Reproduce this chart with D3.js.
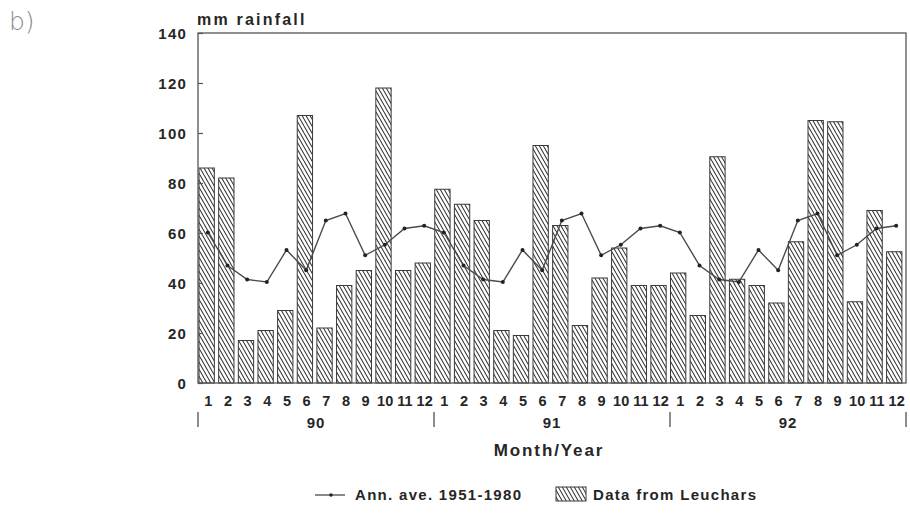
<!DOCTYPE html>
<html>
<head>
<meta charset="utf-8">
<script src="https://cdn.jsdelivr.net/npm/d3@7/dist/d3.min.js"></script>
<style>
  html, body { margin: 0; padding: 0; background: #ffffff; }
  svg { display: block; }
  text { font-family: "Liberation Sans", Arial, sans-serif; font-weight: bold; fill: #262626; }
</style>
</head>
<body>
<svg id="chart" width="910" height="513"></svg>
<script>
// Monthly rainfall at Leuchars (mm), Jan–Dec for each year
const months = ["1","2","3","4","5","6","7","8","9","10","11","12"];
const years = ["90", "91", "92"];
const leuchars90 = [86, 82, 17, 21, 29, 107, 22, 39, 45, 118, 45, 48];
const leuchars91 = [77.5, 71.5, 65, 21, 19, 95, 63, 23, 42, 54, 39, 39];
const leuchars92 = [44, 27, 90.5, 41.5, 39, 32, 56.5, 105, 104.5, 32.5, 69, 52.5];
// Long-term monthly average 1951–1980 (mm)
const annAve = [60.2, 47, 41.4, 40.4, 53.2, 45.1, 65, 67.8, 51.1, 55.3, 61.8, 62.9];
const yTicks = [0, 20, 40, 60, 80, 100, 120, 140];

const rainfall = [leuchars90, leuchars91, leuchars92];
const rows = [];
years.forEach((yr, yi) => {
  months.forEach((m, mi) => {
    rows.push({ key: yr + "-" + m, year: yr, month: m, rain: rainfall[yi][mi], ave: annAve[mi] });
  });
});

const svg = d3.select("#chart");
const plot = { left: 198, right: 906, top: 33, bottom: 383 };

const y = d3.scaleLinear().domain([0, 140]).range([plot.bottom, plot.top]);
const xBar = d3.scaleBand().domain(rows.map(d => d.key))
  .range([plot.left, plot.right]).paddingInner(0.22).paddingOuter(0.13).align(0.2);
const xPt = d3.scalePoint().domain(rows.map(d => d.key))
  .range([plot.left, plot.right]).padding(0.5);

// Diagonal hatch fill for the bars
const defs = svg.append("defs");
const pat = defs.append("pattern").attr("id", "hatch")
  .attr("patternUnits", "userSpaceOnUse").attr("width", 4).attr("height", 7);
pat.append("rect").attr("width", 4).attr("height", 7).attr("fill", "#ffffff");
[[0, 4], [-4, 0], [4, 8]].forEach(([a, b]) => {
  pat.append("line").attr("x1", a).attr("y1", 0).attr("x2", b).attr("y2", 7)
    .attr("stroke", "#333").attr("stroke-width", 1.1);
});

// Panel letter
svg.append("text").attr("x", 9).attr("y", 30)
  .style("font-family", "'DejaVu Sans', sans-serif").style("font-weight", 200)
  .style("font-size", "25px").style("fill", "#8a8a8a").text("b)");

// Bars
svg.append("g").selectAll("rect").data(rows).join("rect")
  .attr("x", d => xBar(d.key))
  .attr("y", d => y(d.rain))
  .attr("width", xBar.bandwidth())
  .attr("height", d => y(0) - y(d.rain))
  .attr("fill", "url(#hatch)")
  .attr("stroke", "#3a3a3a").attr("stroke-width", 1);

// Average line with point markers
const line = d3.line().x(d => xPt(d.key)).y(d => y(d.ave));
svg.append("path").datum(rows).attr("d", line)
  .attr("fill", "none").attr("stroke", "#4a4a4a").attr("stroke-width", 1.4);
svg.append("g").selectAll("circle").data(rows).join("circle")
  .attr("cx", d => xPt(d.key)).attr("cy", d => y(d.ave)).attr("r", 2)
  .attr("fill", "#222");

// Frame
svg.append("rect").attr("x", plot.left).attr("y", plot.top)
  .attr("width", plot.right - plot.left).attr("height", plot.bottom - plot.top)
  .attr("fill", "none").attr("stroke", "#555").attr("stroke-width", 1.3);

// Y axis
const yAxis = d3.axisLeft(y).tickValues(yTicks).tickSize(-5).tickPadding(11);
const gy = svg.append("g").attr("transform", `translate(${plot.left},0)`).call(yAxis);
gy.select(".domain").remove();
gy.selectAll(".tick line").attr("stroke", "#555").attr("stroke-width", 1.2);
gy.selectAll(".tick text").style("font-size", "15px").style("letter-spacing", "1.2px")
  .style("font-family", "'Liberation Sans', Arial, sans-serif").style("font-weight", "bold")
  .attr("fill", "#262626").attr("dy", "0.36em");

svg.append("text").attr("x", 197).attr("y", 25)
  .style("font-size", "16px").style("letter-spacing", "2.2px").text("mm rainfall");

// Month labels
const xAxis = d3.axisBottom(xPt).tickSize(0).tickPadding(13).tickFormat(k => k.split("-")[1]);
const gx = svg.append("g").attr("transform", `translate(0,${plot.bottom})`).call(xAxis);
gx.select(".domain").remove();
gx.selectAll(".tick text").style("font-size", "14.5px").style("letter-spacing", "0.2px")
  .style("font-family", "'Liberation Sans', Arial, sans-serif").style("font-weight", "bold")
  .attr("fill", "#262626");

// Year groups: separators and labels
const yearEdges = years.map(yr => xPt(yr + "-1") - xPt.step() / 2);
yearEdges.push(xPt(years[years.length - 1] + "-12") + xPt.step() / 2);
svg.append("g").selectAll("line").data(yearEdges).join("line")
  .attr("x1", d => d).attr("x2", d => d).attr("y1", 412).attr("y2", 427)
  .attr("stroke", "#444").attr("stroke-width", 1.2);
svg.append("g").selectAll("text").data(years).join("text")
  .attr("x", yr => (xPt(yr + "-1") + xPt(yr + "-12")) / 2)
  .attr("y", 428).attr("text-anchor", "middle")
  .style("font-size", "15px").style("letter-spacing", "1px").text(d => d);

svg.append("text").attr("x", 549).attr("y", 456).attr("text-anchor", "middle")
  .style("font-size", "17px").style("letter-spacing", "1.9px").text("Month/Year");

// Legend
const lg = svg.append("g");
lg.append("line").attr("x1", 315).attr("x2", 345).attr("y1", 495).attr("y2", 495)
  .attr("stroke", "#4a4a4a").attr("stroke-width", 1.3);
lg.append("circle").attr("cx", 331).attr("cy", 495).attr("r", 1.8).attr("fill", "#222");
lg.append("text").attr("x", 355).attr("y", 500)
  .style("font-size", "15px").style("letter-spacing", "1.3px").text("Ann. ave. 1951-1980");
lg.append("rect").attr("x", 556).attr("y", 487).attr("width", 30).attr("height", 14)
  .attr("fill", "url(#hatch)").attr("stroke", "#3a3a3a").attr("stroke-width", 1);
lg.append("text").attr("x", 593).attr("y", 500)
  .style("font-size", "15px").style("letter-spacing", "1.3px").text("Data from Leuchars");
</script>
</body>
</html>
